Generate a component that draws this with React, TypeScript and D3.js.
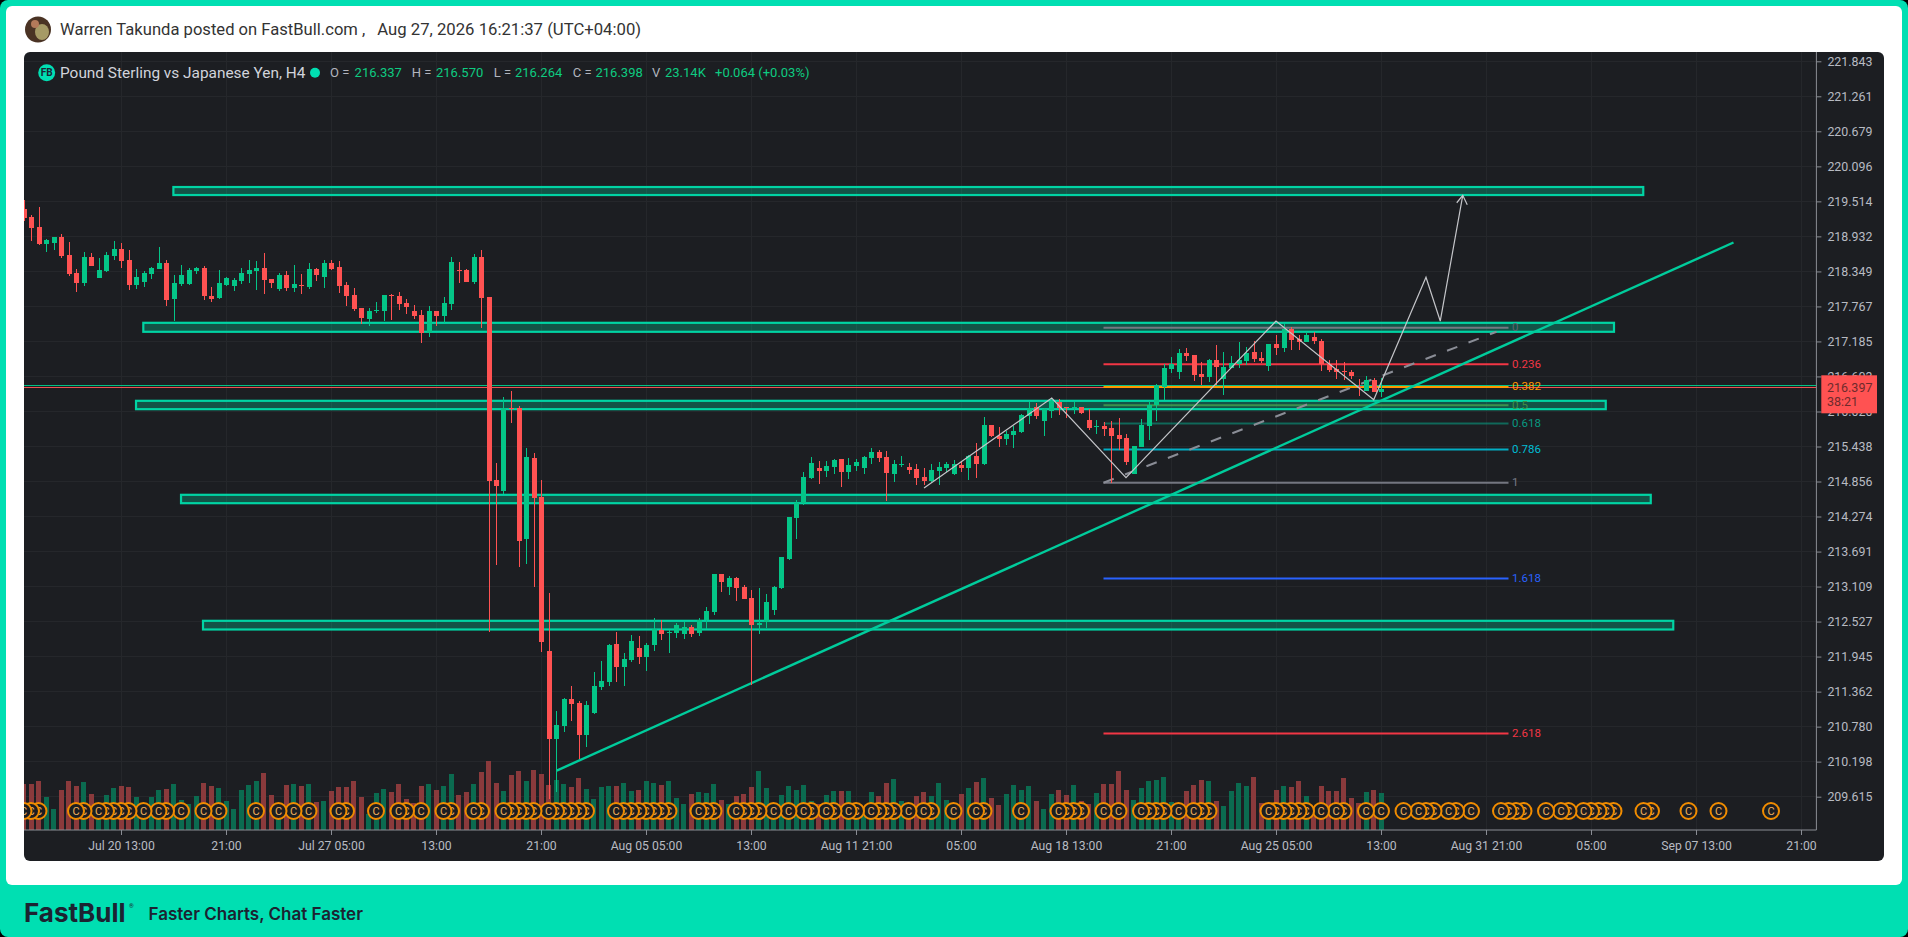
import { useEffect, useRef } from 'react'
import * as d3 from 'd3'

// candles, first visible bar is number -1 (cut by the panel edge)
const opens = [
  219.39,219.25,219.09,218.81,218.82,218.92,218.62,218.32,218.16,218.59,
  218.24,218.36,218.61,218.72,218.54,218.12,218.17,218.31,218.39,218.49,
  217.89,218.14,218.14,218.36,218.41,217.94,217.91,218.12,218.11,218.19,
  218.31,218.36,218.41,218.22,218.06,218.29,218.07,218.12,218.09,218.39,
  218.26,218.49,218.42,218.12,217.96,217.74,217.56,217.69,217.69,217.96,
  217.94,217.82,217.69,217.62,217.33,217.69,217.61,217.81,218.37,218.37,
  218.17,218.59,217.92,214.88,214.70,216.08,216.08,213.90,215.25,214.60,
  212.04,210.57,210.79,211.24,211.17,210.64,211.01,211.44,211.52,212.15,
  211.77,211.89,212.09,211.94,212.14,212.39,212.34,212.34,212.32,212.44,
  212.34,212.56,212.69,213.32,213.10,213.25,213.10,212.92,212.47,212.52,
  212.72,213.08,213.57,214.25,214.50,214.91,215.08,215.03,215.10,215.23,
  215.01,215.11,215.08,215.25,215.35,215.26,214.98,215.13,215.10,215.06,
  214.93,214.86,215.03,215.08,214.98,215.13,215.08,215.28,215.15,215.79,
  215.61,215.56,215.63,215.68,215.95,216.09,215.86,216.03,216.18,216.09,
  216.08,216.09,215.88,215.76,215.78,215.75,215.63,215.58,214.98,215.43,
  215.78,216.13,216.43,216.73,216.68,216.99,216.96,216.64,216.59,216.88,
  216.56,216.74,216.81,216.86,217.01,216.91,216.78,217.14,217.08,217.39,
  217.22,217.18,217.26,217.19,216.81,216.73,216.69,216.68,216.44,216.36,
  216.54,216.337,
]
const highs = [
  219.54,219.29,219.42,218.89,218.92,218.97,218.84,218.39,218.67,218.65,
  218.57,218.67,218.85,218.82,218.71,218.39,218.36,218.42,218.76,218.54,
  218.29,218.46,218.41,218.42,218.44,218.09,218.37,218.26,218.24,218.41,
  218.54,218.52,218.66,218.22,218.32,218.36,218.46,218.31,218.49,218.41,
  218.54,218.54,218.52,218.17,218.07,217.74,217.74,217.84,217.96,217.97,
  218.01,217.89,217.79,217.71,217.77,217.69,217.92,218.59,218.51,218.39,
  218.64,218.71,217.92,215.16,216.26,216.36,216.11,215.41,215.33,214.88,
  213.00,211.04,211.26,211.46,211.21,211.21,211.69,211.87,212.15,212.35,
  212.00,212.30,212.29,212.17,212.59,212.55,212.39,212.50,212.52,212.47,
  212.59,212.77,213.32,213.32,213.28,213.27,213.13,213.05,213.08,212.99,
  213.12,213.60,214.27,214.55,215.01,215.26,215.20,215.20,215.23,215.23,
  215.25,215.23,215.28,215.41,215.38,215.36,215.21,215.28,215.16,215.15,
  215.08,215.15,215.18,215.18,215.21,215.20,215.30,215.50,215.93,215.79,
  215.76,215.70,215.78,215.98,216.18,216.16,216.08,216.24,216.23,216.09,
  216.18,216.09,216.06,215.88,215.85,215.86,215.91,215.65,215.45,215.89,
  216.19,216.48,216.81,216.93,217.06,217.08,216.96,216.84,216.89,217.13,
  217.01,216.94,217.18,217.09,217.19,217.01,217.14,217.30,217.47,217.42,
  217.30,217.34,217.34,217.22,216.88,216.88,216.84,216.71,216.56,216.61,
  216.58,216.57,
]
const lows = [
  219.19,218.85,218.79,218.67,218.71,218.57,218.27,218.01,218.11,218.44,
  218.24,218.34,218.54,218.41,218.04,218.06,218.09,218.22,218.39,217.77,
  217.52,218.11,218.12,218.31,217.87,217.84,217.89,218.11,218.02,218.14,
  218.16,218.04,217.97,218.07,218.02,218.02,218.01,217.97,218.06,218.19,
  218.07,218.37,217.99,217.77,217.69,217.47,217.44,217.66,217.52,217.54,
  217.71,217.64,217.56,217.16,217.26,217.44,217.49,217.71,218.16,218.17,
  218.14,217.41,212.35,213.47,214.65,215.83,213.43,213.48,213.10,212.02,
  209.58,209.69,210.69,210.87,210.24,210.44,210.99,211.39,211.46,211.52,
  211.46,211.85,211.82,211.70,212.04,212.22,212.00,212.25,212.24,212.27,
  212.29,212.40,212.64,213.02,212.97,212.87,212.90,211.47,212.32,212.42,
  212.64,213.07,213.55,213.90,214.46,214.90,214.81,214.93,214.98,214.76,
  214.90,215.03,214.98,215.15,215.18,214.53,214.85,215.10,214.98,214.80,
  214.80,214.85,214.80,215.01,214.96,215.01,214.88,214.91,215.13,215.60,
  215.43,215.46,215.41,215.66,215.81,215.89,215.61,215.91,215.96,215.91,
  215.98,215.98,215.71,215.65,215.61,214.83,215.38,215.13,214.98,215.43,
  215.55,215.86,216.21,216.66,216.56,216.86,216.53,216.46,216.51,216.46,
  216.29,216.74,216.74,216.79,216.84,216.83,216.69,216.96,217.01,217.04,
  217.04,217.18,217.14,216.69,216.68,216.56,216.54,216.56,216.28,216.36,
  216.34,216.264,
]
const closes = [
  219.24,219.07,218.81,218.87,218.92,218.61,218.31,218.16,218.59,218.44,
  218.37,218.62,218.72,218.52,218.12,218.26,218.32,218.41,218.49,217.87,
  218.16,218.29,218.37,218.41,217.94,217.89,218.16,218.24,218.21,218.32,
  218.37,218.41,218.21,218.16,218.29,218.07,218.14,218.11,218.39,218.29,
  218.49,218.39,218.11,217.94,217.72,217.57,217.69,217.71,217.96,217.94,
  217.81,217.76,217.61,217.33,217.69,217.61,217.82,218.51,218.36,218.17,
  218.59,217.91,214.86,214.78,216.08,216.06,213.87,215.26,214.58,212.19,
  210.57,210.81,211.24,211.16,210.64,211.14,211.46,211.54,212.14,211.77,
  211.90,212.20,211.94,212.14,212.40,212.32,212.35,212.47,212.44,212.32,
  212.56,212.70,213.32,213.18,213.25,213.08,212.90,212.47,212.50,212.85,
  213.10,213.60,214.27,214.50,214.93,215.16,215.03,215.11,215.21,215.01,
  215.13,215.18,215.26,215.35,215.25,215.00,215.15,215.15,215.05,214.91,
  214.86,215.05,215.10,215.15,215.15,215.08,215.28,215.15,215.79,215.61,
  215.56,215.65,215.70,215.96,216.08,215.95,216.06,216.19,216.08,216.08,
  216.09,215.99,215.75,215.78,215.73,215.61,215.56,215.18,215.45,215.79,
  216.13,216.46,216.74,216.81,216.99,216.94,216.63,216.59,216.88,216.76,
  216.76,216.83,216.88,216.99,216.89,216.86,217.14,217.08,217.39,217.21,
  217.18,217.29,217.19,216.81,216.71,216.68,216.68,216.61,216.43,216.54,
  216.34,216.398,
]
// volume in K
const volumes = [
  29.0,29.0,30.8,20.8,13.3,25.2,30.8,27.7,30.2,22.7,
  16.5,22.1,26.5,27.7,27.1,20.8,16.5,20.8,25.2,25.8,
  29.0,19.0,16.5,21.5,29.6,27.7,26.5,18.3,13.3,25.2,
  28.3,30.8,35.8,22.1,16.5,28.3,29.0,27.7,29.0,17.7,
  18.3,24.6,27.1,27.1,30.8,20.8,10.2,23.3,25.8,24.0,
  29.0,19.6,17.1,27.7,29.0,25.2,27.7,35.2,22.1,24.0,
  29.0,36.5,43.3,29.6,24.6,34.6,37.1,30.8,37.7,35.2,
  28.3,31.5,29.0,27.1,32.7,25.8,19.6,27.1,27.7,27.7,
  29.6,24.6,24.8,30.8,29.6,28.3,30.8,20.2,16.5,22.7,
  24.0,23.3,29.0,19.0,16.5,21.5,22.7,27.1,37.1,26.5,
  16.5,22.1,27.7,25.2,28.3,18.3,16.5,22.1,24.6,24.6,
  24.6,16.5,13.3,24.0,21.5,29.6,32.1,18.3,13.3,21.5,
  24.0,21.5,29.6,19.0,16.5,22.7,26.5,30.2,32.7,20.2,
  15.8,22.7,28.3,25.2,27.7,18.3,13.3,22.7,25.2,22.1,
  28.3,18.3,16.5,23.3,29.0,29.0,37.1,25.2,19.0,26.5,
  30.8,31.5,33.3,17.7,16.5,24.6,28.3,31.5,30.8,18.3,
  15.2,24.6,29.6,27.7,33.3,17.1,12.3,25.2,27.7,27.1,
  30.8,21.5,13.3,27.7,24.6,24.6,32.7,20.2,17.1,24.0,
  25.2,23.14,
]

// bars that carry a "C" event marker
const markerBars = [
  -1,0,1,6,7,9,10,11,12,13,15,17,18,20,23,25,30,33,35,37,41,42,46,49,50,52,55,56,59,60,
  63,64,65,66,67,69,70,71,72,73,74,78,79,80,81,82,83,84,85,89,90,91,94,95,96,97,99,101,
  103,104,106,107,109,110,112,113,114,115,117,119,120,123,126,127,132,137,138,139,140,
  143,145,148,149,150,151,153,155,156,157,165,166,167,168,169,170,172,174,175,178,180,
  183,185,186,187,189,190,192,196,197,198,199,202,204,205,207,208,209,210,211,215,216,
  221,225,232,
]

const priceTicks = [
  221.843,221.261,220.679,220.096,219.514,218.932,218.349,217.767,217.185,216.603,216.020,
  215.438,214.856,214.274,213.691,213.109,212.527,211.945,211.362,210.780,210.198,209.615,
]
const timeBars = [12,26,40,54,68,82,96,110,124,138,152,166,180,194,208,222,236]
const timeLabels = [
  'Jul 20 13:00','21:00','Jul 27 05:00','13:00','21:00','Aug 05 05:00','13:00','Aug 11 21:00',
  '05:00','Aug 18 13:00','21:00','Aug 25 05:00','13:00','Aug 31 21:00','05:00','Sep 07 13:00','21:00',
]

// support / resistance boxes
const zoneStart = [18.85,14.84,13.87,19.87,22.8]
const zoneEnd = [215.1,211.2,210.1,216.1,219.1]
const zoneTop = [219.761,217.503,216.206,214.643,212.548]
const zoneBottom = [219.611,217.337,216.05,214.487,212.387]

// fibonacci tool
const fibLevels = [0,0.236,0.382,0.5,0.618,0.786,1,1.618,2.618]
const fibColors = ['#787b86','#f23645','#ff9800','#4caf50','#089981','#00bcd4','#787b86','#2962ff','#f23645']
const fibOpacity = [0.95,1,1,0.7,0.6,0.9,0.95,1,1]
const fibLabelColors = ['#5f6270','#f23645','#ff9800','#3f8f43','#089981','#00bcd4','#787b86','#2962ff','#f23645']
const fibHigh = 217.413
const fibLow = 214.836
const fibFromBar = 143
const fibToBar = 197

const trendBars = [70.1,227]
const trendPrices = [210.05,218.83]
const dashBars = [143,195.4]
const dashPrices = [214.836,217.346]

// hand drawn path and its arrow
const pathBars = [119.07,136.1,146,166,179.03,186,187.9,190.9]
const pathPrices = [214.748,216.244,214.919,217.524,216.216,218.251,217.524,219.615]
const arrowBars = [190.1,190.9,191.5]
const arrowPrices = [219.491,219.615,219.458]

const askLine = 216.452
const bidLine = 216.419

const legendValues = [
  { t: 'O =', x: 330, c: '#b2b5be' }, { t: '216.337', x: 354.6, c: '#0ecb81' },
  { t: 'H =', x: 411.8, c: '#b2b5be' }, { t: '216.570', x: 436, c: '#0ecb81' },
  { t: 'L =', x: 493.7, c: '#b2b5be' }, { t: '216.264', x: 515, c: '#0ecb81' },
  { t: 'C =', x: 572.8, c: '#b2b5be' }, { t: '216.398', x: 595.5, c: '#0ecb81' },
  { t: 'V', x: 652, c: '#b2b5be' }, { t: '23.14K', x: 665, c: '#0ecb81' },
  { t: '+0.064 (+0.03%)', x: 715, c: '#0ecb81' },
]

const FONT = 'Roboto, sans-serif'
const GREEN = '#04c587'
const RED = '#ff5252'
const PANEL = '#1c1e22'
const ACCENT = '#00dfb2'

export default function App() {
  const ref = useRef<SVGSVGElement>(null)

  useEffect(() => {
    document.body.style.margin = '0'
    const svg = d3.select(ref.current)
    svg.selectAll('*').remove()

    const x = d3.scaleLinear().domain([0, 180]).range([31, 1381])
    const y = d3.scaleLinear().domain([221.843, 209.615]).range([61.3, 796.7])
    const yVol = d3.scaleLinear().domain([0, 100]).range([830, 670])
    const plotLeft = 24, plotRight = 1816.4, plotTop = 52, plotBottom = 830

    // page frame
    svg.append('rect').attr('width', 1908).attr('height', 937).attr('fill', '#000')
    svg.append('rect').attr('width', 1908).attr('height', 937).attr('rx', 8).attr('fill', ACCENT)
    svg.append('rect').attr('x', 6).attr('y', 6).attr('width', 1896).attr('height', 879).attr('rx', 6).attr('fill', '#fff')
    svg.append('rect').attr('x', plotLeft).attr('y', plotTop).attr('width', 1860).attr('height', 809).attr('rx', 6).attr('fill', PANEL)

    // avatar
    svg.append('circle').attr('cx', 38).attr('cy', 29.5).attr('r', 13).attr('fill', '#4a3324')
    svg.append('ellipse').attr('cx', 42).attr('cy', 32).attr('rx', 7).attr('ry', 8).attr('fill', '#a69a66')
    svg.append('circle').attr('cx', 35).attr('cy', 24).attr('r', 4).attr('fill', '#b47a5a')

    svg.append('text').attr('x', 60).attr('y', 35).attr('font-family', FONT).attr('font-size', 16.6)
      .attr('fill', '#333').text('Warren Takunda posted on FastBull.com')
    svg.append('text').attr('x', 362).attr('y', 35).attr('font-family', FONT).attr('font-size', 16.6)
      .attr('fill', '#333').text(',')
    svg.append('text').attr('x', 377.3).attr('y', 35).attr('font-family', FONT).attr('font-size', 16.7)
      .attr('fill', '#333').text('Aug 27, 2026 16:21:37 (UTC+04:00)')

    // footer
    svg.append('text').attr('x', 24).attr('y', 922).attr('font-family', 'Inter, sans-serif').attr('font-weight', 700)
      .attr('font-size', 26).attr('fill', '#1c2331').text('FastBull')
    svg.append('text').attr('x', 129).attr('y', 908).attr('font-family', FONT).attr('font-size', 6)
      .attr('fill', '#1c2331').text('®')
    svg.append('text').attr('x', 148.5).attr('y', 920).attr('font-family', 'Inter, sans-serif').attr('font-weight', 600)
      .attr('font-size', 17).attr('fill', '#1c2331').text('Faster Charts, Chat Faster')

    // grid
    const grid = svg.append('g').attr('stroke', '#25272b').attr('stroke-width', 1).attr('shape-rendering', 'crispEdges')
    grid.selectAll('line.h').data(priceTicks).join('line')
      .attr('x1', plotLeft).attr('x2', plotRight).attr('y1', d => y(d)).attr('y2', d => y(d))
    grid.selectAll('line.v').data(timeBars).join('line').attr('class', 'v')
      .attr('x1', d => x(d)).attr('x2', d => x(d)).attr('y1', plotTop).attr('y2', plotBottom)

    svg.append('defs').append('clipPath').attr('id', 'plot').append('rect')
      .attr('x', plotLeft).attr('y', plotTop).attr('width', plotRight - plotLeft).attr('height', plotBottom - plotTop)
    const plot = svg.append('g').attr('clip-path', 'url(#plot)')

    const bars = d3.range(opens.length)
    const barNo = (i: number) => i - 1
    const up = (i: number) => closes[i] >= opens[i]

    // volume
    plot.append('g').attr('shape-rendering', 'crispEdges').selectAll('rect').data(bars).join('rect')
      .attr('x', i => x(barNo(i)) - 2.5).attr('width', 5)
      .attr('y', i => yVol(volumes[i])).attr('height', i => 830 - yVol(volumes[i]))
      .attr('fill', i => (up(i) ? '#0b6b50' : '#8a3a3c'))

    // C markers, the left one sits on top
    const markers = plot.append('g').selectAll('g').data(markerBars.slice().reverse()).join('g')
      .attr('transform', d => `translate(${x(d)},811)`)
    markers.append('circle').attr('r', 8).attr('fill', PANEL).attr('stroke', '#f08c00').attr('stroke-width', 2)
    markers.append('text').attr('text-anchor', 'middle').attr('y', 4).attr('font-family', FONT).attr('font-size', 11)
      .attr('fill', '#f2b25c').text('C')

    // zones, stroke sits just inside the measured box
    plot.append('g').selectAll('rect').data(zoneStart).join('rect')
      .attr('x', (d) => x(d) + 1).attr('width', (d, i) => x(zoneEnd[i]) - x(d) - 2)
      .attr('y', (d, i) => y(zoneTop[i]) + 0.5).attr('height', (d, i) => y(zoneBottom[i]) - y(zoneTop[i]) - 1)
      .attr('fill', 'rgba(0,210,160,0.3)').attr('stroke', '#00d4a4').attr('stroke-width', 2.2)

    // last price lines
    plot.append('line').attr('x1', plotLeft).attr('x2', plotRight).attr('y1', y(askLine)).attr('y2', y(askLine))
      .attr('stroke', GREEN).attr('stroke-width', 1)
    plot.append('line').attr('x1', plotLeft).attr('x2', plotRight).attr('y1', y(bidLine)).attr('y2', y(bidLine))
      .attr('stroke', '#ef5350').attr('stroke-width', 1)

    // fibonacci
    const fibPrice = (l: number) => fibHigh - l * (fibHigh - fibLow)
    plot.append('g').selectAll('line').data(fibLevels).join('line')
      .attr('x1', x(fibFromBar)).attr('x2', x(fibToBar))
      .attr('y1', d => y(fibPrice(d))).attr('y2', d => y(fibPrice(d)))
      .attr('stroke', (d, i) => fibColors[i]).attr('stroke-opacity', (d, i) => fibOpacity[i]).attr('stroke-width', 2)
    plot.append('g').selectAll('text').data(fibLevels).join('text')
      .attr('x', x(fibToBar) + 3.5).attr('y', d => y(fibPrice(d)) + 3.5)
      .attr('font-family', FONT).attr('font-size', 11.5)
      .attr('fill', (d, i) => fibLabelColors[i]).text(d => String(d))

    const line = d3.line<number>().x(d => x(d))
    // dashed fib diagonal
    plot.append('path')
      .attr('d', line.y((d, i) => y(dashPrices[i]))(dashBars))
      .attr('fill', 'none').attr('stroke', '#8a8d96').attr('stroke-width', 2).attr('stroke-dasharray', '11,12')

    // rising trend line
    plot.append('path')
      .attr('d', line.y((d, i) => y(trendPrices[i]))(trendBars))
      .attr('fill', 'none').attr('stroke', '#00cc9c').attr('stroke-width', 2.4)

    // candles
    const candles = plot.append('g').attr('shape-rendering', 'crispEdges').selectAll('g').data(bars).join('g')
      .attr('fill', i => (up(i) ? GREEN : RED))
    candles.append('rect').attr('x', i => Math.round(x(barNo(i))) - 0.5).attr('width', 1)
      .attr('y', i => y(highs[i])).attr('height', i => y(lows[i]) - y(highs[i]))
    candles.append('rect').attr('x', i => Math.round(x(barNo(i))) - 2.5).attr('width', 5)
      .attr('y', i => y(Math.max(opens[i], closes[i])))
      .attr('height', i => Math.max(1, Math.abs(y(opens[i]) - y(closes[i]))))

    // hand drawn path
    plot.append('path')
      .attr('d', line.y((d, i) => y(pathPrices[i]))(pathBars))
      .attr('fill', 'none').attr('stroke', '#c4c5c9').attr('stroke-width', 1.2)
    plot.append('path')
      .attr('d', line.y((d, i) => y(arrowPrices[i]))(arrowBars))
      .attr('fill', 'none').attr('stroke', '#c4c5c9').attr('stroke-width', 1.2)

    // axes
    const axisRight = d3.axisRight(y).tickValues(priceTicks).tickSize(5).tickPadding(6)
      .tickFormat(d => (d as number).toFixed(3))
    const gy = svg.append('g').attr('transform', `translate(${plotRight},0)`).call(axisRight)
    gy.select('.domain').remove()
    gy.append('line').attr('y1', plotTop).attr('y2', plotBottom).attr('stroke', '#8a8d94')
    gy.selectAll('.tick line').attr('stroke', '#8a8d94')
    gy.selectAll('.tick text').attr('font-family', FONT).attr('font-size', 12.4).attr('fill', '#b8bbc2')

    const axisBottom = d3.axisBottom(x).tickValues(timeBars).tickSize(5).tickPadding(6)
      .tickFormat((d, i) => timeLabels[i])
    const gx = svg.append('g').attr('transform', `translate(0,${plotBottom})`).call(axisBottom)
    gx.select('.domain').remove()
    gx.append('line').attr('x1', plotLeft).attr('x2', plotRight).attr('stroke', '#8a8d94')
    gx.selectAll('.tick line').attr('stroke', '#8a8d94')
    gx.selectAll('.tick text').attr('font-family', FONT).attr('font-size', 12.2).attr('fill', '#b8bbc2')

    // last price tag
    svg.append('rect').attr('x', 1821.3).attr('y', 375.3).attr('width', 55.7).attr('height', 38).attr('fill', RED)
    svg.append('text').attr('x', 1827).attr('y', 391.5).attr('font-family', FONT).attr('font-size', 12.5)
      .attr('fill', '#6e2a2c').text('216.397')
    svg.append('text').attr('x', 1827).attr('y', 405.5).attr('font-family', FONT).attr('font-size', 12.5)
      .attr('fill', '#6e2a2c').text('38:21')

    // legend
    svg.append('circle').attr('cx', 46.7).attr('cy', 72.7).attr('r', 8.5).attr('fill', ACCENT)
    svg.append('text').attr('x', 46.7).attr('y', 76).attr('text-anchor', 'middle').attr('font-family', FONT)
      .attr('font-weight', 700).attr('font-size', 10).attr('fill', '#1c2331').text('FB')
    svg.append('text').attr('x', 60).attr('y', 77.5).attr('font-family', FONT).attr('font-size', 15.4)
      .attr('fill', '#d1d4dc').text('Pound Sterling vs Japanese Yen, H4')
    svg.append('circle').attr('cx', 315).attr('cy', 72.7).attr('r', 5).attr('fill', ACCENT)
    svg.append('g').selectAll('text').data(legendValues).join('text')
      .attr('x', d => d.x).attr('y', 77).attr('font-family', FONT).attr('font-size', 13)
      .attr('fill', d => d.c).text(d => d.t)
  }, [])

  return <svg ref={ref} width={1908} height={937} style={{ display: 'block' }} />
}
